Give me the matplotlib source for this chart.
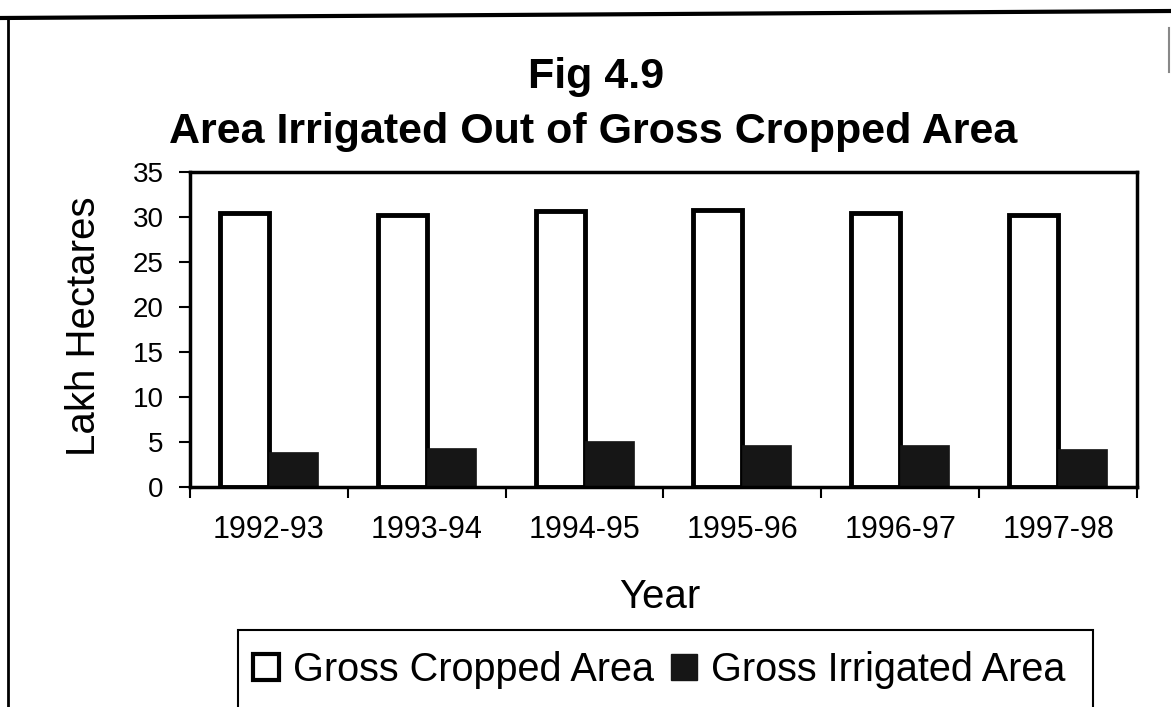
import matplotlib
matplotlib.use('Agg')
import matplotlib.pyplot as plt
import numpy as np
from matplotlib.patches import Patch, Rectangle
from matplotlib.lines import Line2D

years = ['1992-93', '1993-94', '1994-95', '1995-96', '1996-97', '1997-98']
gross_cropped = [30.5, 30.2, 30.7, 30.8, 30.5, 30.2]
gross_irrigated = [3.9, 4.3, 5.1, 4.7, 4.7, 4.2]

plt.rcParams['font.family'] = ['Liberation Sans', 'DejaVu Sans']

W, H = 1171, 707
fig = plt.figure(figsize=(W / 100, H / 100), dpi=100)
ax = fig.add_axes([190 / W, 1 - 487 / H, (1137 - 190) / W, (487 - 172) / H])

x = np.arange(len(years))
w = 0.31
ax.bar(x - w / 2, gross_cropped, w, color='white', edgecolor='black', linewidth=3.5)
ax.bar(x + w / 2, gross_irrigated, w, color='#161616', edgecolor='#161616', linewidth=0.5)

ax.set_xlim(-0.5, len(years) - 0.5)
ax.set_ylim(0, 35)
ax.set_yticks(np.arange(0, 36, 5))
ax.tick_params(axis='y', labelsize=20, length=8, width=1.5, pad=11, direction='out')
ax.set_xticks(x)
ax.set_xticklabels(years)
ax.tick_params(axis='x', which='major', length=0, labelsize=22, pad=20)
ax.set_xticks(np.arange(-0.5, len(years)), minor=True)
ax.tick_params(axis='x', which='minor', length=8, width=1.5, direction='out')
for s in ax.spines.values():
    s.set_linewidth(2.5)

# titles and axis labels
fig.text(596 / W, 1 - 88 / H, 'Fig 4.9', ha='center', va='baseline', fontsize=31, fontweight='bold')
fig.text(593 / W, 1 - 143 / H, 'Area Irrigated Out of Gross Cropped Area', ha='center', va='baseline',
         fontsize=31, fontweight='bold')
fig.text(84 / W, 1 - 326 / H, 'Lakh Hectares', rotation=90, ha='center', va='center', fontsize=29)
fig.text(660 / W, 1 - 608 / H, 'Year', ha='center', va='baseline', fontsize=29)

# legend in a box that runs off the bottom of the page
fig.add_artist(Rectangle((238 / W, -0.05), (1093 - 238) / W, (707 - 630) / H + 0.05,
                         transform=fig.transFigure, fill=False, lw=1.5, edgecolor='black'))
handles = [Patch(facecolor='white', edgecolor='black', linewidth=3, label='Gross Cropped Area'),
           Patch(facecolor='#161616', edgecolor='#161616', label='Gross Irrigated Area')]
fig.legend(handles=handles, loc='center left', bbox_to_anchor=(253 / W, 1 - 670 / H), ncol=2,
           frameon=False, fontsize=28.5, handlelength=0.66, handleheight=0.66,
           handletextpad=0.35, columnspacing=0.43, borderpad=0, borderaxespad=0)

# outer frame of the scanned page
fig.add_artist(Line2D([0, 1], [1 - 18 / H, 1 - 11 / H], transform=fig.transFigure, color='black', lw=3))
fig.add_artist(Line2D([8 / W, 8 / W], [0, 1 - 18 / H], transform=fig.transFigure, color='black', lw=2))
fig.add_artist(Line2D([1169 / W, 1169 / W], [1 - 72 / H, 1 - 28 / H], transform=fig.transFigure,
                      color='#888888', lw=1.5))

fig.savefig('out.png', dpi=100)
